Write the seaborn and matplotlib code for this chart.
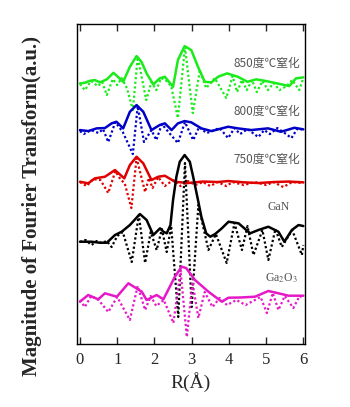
import numpy as np
import pandas as pd
import matplotlib
matplotlib.use("Agg")
import matplotlib.pyplot as plt
import seaborn as sns

# ---- data (heights in arbitrary units, traces stacked) ----
r_850 = [0, 0.13, 0.27, 0.40, 0.54, 0.72, 0.90, 1.16, 1.34, 1.52, 1.65, 1.79, 1.97, 2.14, 2.28, 2.50,
         2.63, 2.81, 2.99, 3.17, 3.35, 3.53, 3.71, 3.95, 4.24, 4.50, 4.73, 4.96, 5.22, 5.62, 5.80, 6.00]
mag_850 = [260.7, 261.3, 263.3, 264, 261.7, 264.7, 271.3, 262.3, 277.3, 288, 282.3, 270.7, 259.7, 265.7, 267.3, 257.3,
           284, 298, 294, 277.3, 262.3, 261.7, 267.3, 270.7, 267.3, 262.3, 264.7, 263.3, 261.3, 258, 265.7, 266.7]
ri_850 = [0.0, 0.13, 0.30, 0.48, 0.60, 0.72, 0.88, 1.00, 1.12, 1.26, 1.42, 1.55, 1.78, 1.92, 2.05, 2.18, 2.30, 2.45,
          2.63, 2.82, 3.03, 3.22, 3.39, 3.62, 3.93, 4.10, 4.22, 4.35, 4.48, 4.62, 4.75, 4.90, 5.05, 5.20, 5.36, 5.55,
          5.70, 5.89, 6.0]
im_850 = [260, 254, 263, 258, 262, 249, 265, 259, 266, 256, 234, 287, 244, 262, 254, 266, 264, 258,
          226, 297, 231, 274, 256, 266, 246, 268, 252, 264, 254, 264, 252, 263, 254, 261, 254, 258,
          264, 254, 266]

r_800 = [0, 0.22, 0.45, 0.67, 0.85, 0.98, 1.16, 1.34, 1.52, 1.70, 1.92, 2.14, 2.28, 2.46, 2.63, 2.81, 2.99,
         3.26, 3.53, 3.98, 4.24, 4.6, 5.05, 5.4, 5.76, 6.0]
mag_800 = [214, 213, 215.7, 216, 220.7, 222.3, 215.7, 232.3, 239, 232.3, 214, 219, 220.7, 214, 220.7, 223, 221.7,
           215.7, 213, 217.3, 215.7, 214, 215.7, 212.3, 216.3, 214.7]
ri_800 = [0.0, 0.1, 0.3, 0.5, 0.62, 0.76, 0.95, 1.15, 1.42, 1.55, 1.72, 1.92, 2.05, 2.2, 2.4, 2.63, 2.82, 3.04,
          3.2, 3.4, 3.55, 3.75, 3.98, 4.15, 4.3, 4.5, 4.79, 4.95, 5.1, 5.3, 5.5, 5.68, 5.85, 6.0]
im_800 = [213, 210, 214, 211, 215, 202, 222, 212, 190, 238, 202, 214, 204, 220, 211, 201, 222, 204,
          217, 211, 213, 216, 206, 216, 210, 215, 207, 214, 210, 216, 211, 206, 216, 214]

r_750 = [0, 0.22, 0.4, 0.67, 0.94, 1.19, 1.34, 1.52, 1.70, 1.92, 2.10, 2.28, 2.55, 2.9, 3.3, 3.7, 3.98,
         4.4, 4.8, 5.2, 5.6, 6.0]
mag_750 = [162.3, 160.7, 165.7, 167.3, 174, 165.7, 179, 187.3, 180.7, 164, 167.3, 168.3, 162.3, 161, 162.5, 162,
           163, 161.7, 161, 162, 162.5, 161.7]
ri_750 = [0.0, 0.18, 0.35, 0.55, 0.76, 0.95, 1.10, 1.20, 1.38, 1.52, 1.75, 1.85, 1.95, 2.10, 2.28, 2.5, 2.7,
          2.9, 3.1, 3.3, 3.5, 3.7, 3.93, 4.1, 4.4, 4.7, 5.0, 5.2, 5.46, 5.7, 6.0]
im_750 = [162, 158, 165, 164, 151, 173, 164, 161, 136, 186, 152, 166, 156, 167, 158, 164, 158,
          163, 159, 162, 158, 162, 158, 162, 159, 162, 159, 162, 157, 162, 161]

r_gan = [0, 0.31, 0.54, 0.72, 0.94, 1.12, 1.34, 1.61, 1.79, 1.97, 2.15, 2.24, 2.33, 2.43, 2.50, 2.59, 2.68,
         2.81, 2.95, 3.04, 3.17, 3.26, 3.39, 3.50, 3.63, 3.81, 3.99, 4.26, 4.57, 4.79, 5.06, 5.33, 5.49,
         5.69, 5.87, 6.0]
mag_gan = [102.3, 102.3, 101.3, 101.3, 109, 112.3, 119, 130, 124, 109, 115.7, 112.3, 110.7, 119, 144, 167.3,
           182.3, 189, 182.3, 167.3, 144, 127.3, 110.7, 107.3, 110, 115.7, 122.3, 120.7, 110.7, 114, 117.3,
           112.3, 102.3, 114, 119, 118]
ri_gan = [0, 0.15, 0.31, 0.45, 0.58, 0.72, 0.85, 1.0, 1.15, 1.39, 1.58, 1.75, 1.9, 2.06, 2.2, 2.33, 2.45,
          2.64, 2.82, 3.0, 3.18, 3.45, 3.65, 3.94, 4.15, 4.35, 4.5, 4.66, 4.9, 5.06, 5.25, 5.42, 5.7, 5.96, 6.0]
im_gan = [102, 104, 99, 103, 101, 103, 97, 108, 112, 82, 129, 81, 112, 94, 115, 92, 118,
          27, 181, 37, 139, 94, 110, 81, 121, 94, 118, 89, 114, 84, 115, 97, 114, 89, 99]

r_ga2o3 = [0, 0.22, 0.49, 0.67, 0.99, 1.30, 1.66, 1.79, 2.06, 2.24, 2.55, 2.73, 2.85, 3.09, 3.45, 3.81, 3.99,
           4.3, 4.70, 5.06, 5.3, 5.60, 6.0]
mag_ga2o3 = [42.3, 49, 44.7, 50.7, 47.3, 60.7, 52.3, 44, 49, 44.7, 67.3, 77.3, 76, 64, 52.3, 42.3, 46.3,
             46.5, 47.3, 53, 51, 48.3, 48.3]
ri_ga2o3 = [0, 0.13, 0.3, 0.5, 0.76, 1.0, 1.34, 1.55, 1.75, 1.9, 2.05, 2.25, 2.51, 2.70, 2.87, 3.02, 3.18,
            3.35, 3.56, 3.75, 3.95, 4.2, 4.45, 4.7, 4.85, 5.02, 5.18, 5.33, 5.5, 5.73, 5.9, 6.0]
im_ga2o3 = [44, 37, 48, 44, 32, 47, 24, 58, 34, 48, 38, 44, 21, 74, 7, 62, 26,
            52, 37, 46, 39, 44, 39, 44, 47, 31, 51, 34, 48, 36, 48, 46]

labels = ["850度℃窒化", "800度℃窒化", "750度℃窒化", "GaN", "Ga$_2$O$_3$"]
label_y = [281, 233, 185, 137, 66]
label_x = [5.92, 5.92, 5.92, 5.63, 5.85]
colors = ["#1aeb1a", "#0000c8", "#e00000", "#000000", "#e619c8"]
xticks = [0, 1, 2, 3, 4, 5, 6]

series = [(r_850, mag_850, ri_850, im_850), (r_800, mag_800, ri_800, im_800),
          (r_750, mag_750, ri_750, im_750), (r_gan, mag_gan, ri_gan, im_gan),
          (r_ga2o3, mag_ga2o3, ri_ga2o3, im_ga2o3)]

sns.set_style("ticks")
plt.rcParams["font.family"] = ["Liberation Serif", "Noto Sans CJK SC", "DejaVu Sans"]
plt.rcParams["mathtext.fontset"] = "stix"

fig = plt.figure(figsize=(3.5, 4.07), dpi=100)
ax = fig.add_axes([0.22, 0.1548, 0.651, 0.786])

for (rm, m, ri, im), c in zip(series, colors):
    sns.lineplot(x=ri, y=im, ax=ax, color=c, linewidth=1.6, linestyle=(0, (1, 1.1)),
                 sort=False, estimator=None)
    sns.lineplot(x=rm, y=m, ax=ax, color=c, linewidth=1.8, sort=False, estimator=None)

for lab, lx, ly in zip(labels, label_x, label_y):
    ax.text(lx, ly, lab, ha="right", va="center", fontsize=8.5, color="#555555",
            family=["Noto Sans CJK SC", "DejaVu Sans"] if "度" in lab else ["Liberation Serif"])

ax.set_xlim(-0.08, 6.04)
ax.set_ylim(0, 320)
ax.set_xticks(xticks)
ax.set_xticklabels([str(t) for t in xticks], fontsize=12)
ax.set_yticks([])
ax.tick_params(axis="x", direction="in", top=True, bottom=True, length=5, width=1, pad=6)
for s in ax.spines.values():
    s.set_visible(True)
    s.set_linewidth(1.0)
    s.set_color("black")
ax.set_xlabel("R(Å)", fontsize=14, labelpad=3)
ax.set_ylabel("Magnitude of Fourier Transform(a.u.)", fontsize=15, fontweight="bold")
ax.yaxis.set_label_coords(-0.155, 0.43)

fig.savefig("out.png", dpi=100)
